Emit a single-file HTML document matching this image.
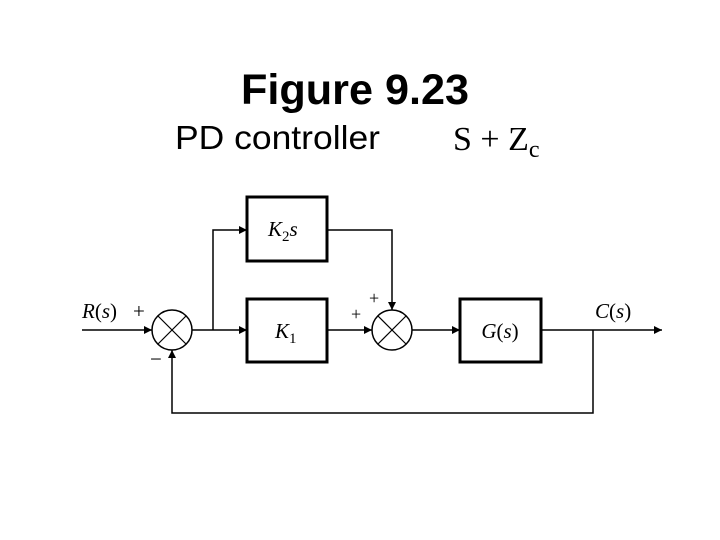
<!DOCTYPE html>
<html><head><meta charset="utf-8"><style>
html,body{margin:0;padding:0;background:#fff;}
svg{display:block;}
</style></head><body>
<svg width="720" height="540" viewBox="0 0 720 540" xmlns="http://www.w3.org/2000/svg">
<defs>
<marker id="a" viewBox="0 0 10 10" refX="10" refY="5" markerWidth="14" markerHeight="8" markerUnits="userSpaceOnUse" orient="auto">
<path d="M0,0 L10,5 L0,10 z" fill="#000"/></marker>
</defs>
<text x="355" y="104" font-family="Liberation Sans, sans-serif" font-weight="bold" font-size="43" text-anchor="middle" textLength="228" lengthAdjust="spacingAndGlyphs">Figure 9.23</text>
<text x="175" y="149" font-family="Liberation Sans, sans-serif" font-size="33" textLength="205" lengthAdjust="spacingAndGlyphs">PD controller</text>
<text x="453" y="150" font-family="Liberation Serif, serif" font-size="34">S + Z<tspan font-size="24" dy="7">c</tspan></text>

<g stroke="#000" fill="none">
<rect x="247" y="197" width="80" height="64" stroke-width="3"/>
<rect x="247" y="299" width="80" height="63" stroke-width="3"/>
<rect x="460" y="299" width="81" height="63" stroke-width="3"/>
<circle cx="172" cy="330" r="20" stroke-width="1.5"/>
<circle cx="392" cy="330" r="20" stroke-width="1.5"/>
<g stroke-width="1.2">
<line x1="158" y1="316" x2="186" y2="344"/><line x1="186" y1="316" x2="158" y2="344"/>
<line x1="378" y1="316" x2="406" y2="344"/><line x1="406" y1="316" x2="378" y2="344"/>
</g>
<g stroke-width="1.5">
<line x1="82" y1="330" x2="152" y2="330" marker-end="url(#a)"/>
<line x1="192" y1="330" x2="247" y2="330" marker-end="url(#a)"/>
<polyline points="213,330 213,230 247,230" marker-end="url(#a)"/>
<polyline points="327,230 392,230 392,310" marker-end="url(#a)"/>
<line x1="327" y1="330" x2="372" y2="330" marker-end="url(#a)"/>
<line x1="412" y1="330" x2="460" y2="330" marker-end="url(#a)"/>
<line x1="541" y1="330" x2="662" y2="330" marker-end="url(#a)"/>
<polyline points="593,330 593,413 172,413 172,350" marker-end="url(#a)"/>
</g>
</g>
<g font-family="Liberation Serif, serif" font-size="21" fill="#000">
<text x="82" y="318"><tspan font-style="italic">R</tspan>(<tspan font-style="italic">s</tspan>)</text>
<text x="133" y="318">+</text>
<text x="150" y="366">−</text>
<text x="369" y="304" font-size="18">+</text>
<text x="351" y="320" font-size="18">+</text>
<text x="595" y="318"><tspan font-style="italic">C</tspan>(<tspan font-style="italic">s</tspan>)</text>
<text x="268" y="236" font-style="italic">K<tspan font-style="normal" font-size="15" dy="5">2</tspan><tspan dy="-5">s</tspan></text>
<text x="275" y="338" font-style="italic">K<tspan font-style="normal" font-size="15" dy="5">1</tspan></text>
<text x="500" y="338" text-anchor="middle"><tspan font-style="italic">G</tspan>(<tspan font-style="italic">s</tspan>)</text>
</g>
</svg>
</body></html>
